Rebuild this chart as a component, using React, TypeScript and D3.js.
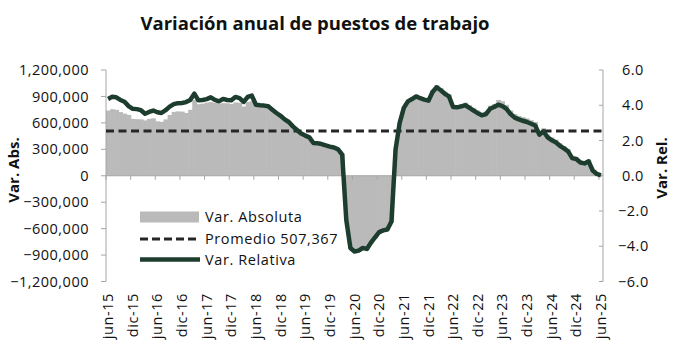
import React, { useEffect, useRef } from "react";
import * as d3 from "d3";

// jun-15 .. jun-25, monthly
const tickLabels = [
  "jun-15", "dic-15", "jun-16", "dic-16", "jun-17", "dic-17", "jun-18", "dic-18",
  "jun-19", "dic-19", "jun-20", "dic-20", "jun-21", "dic-21", "jun-22", "dic-22",
  "jun-23", "dic-23", "jun-24", "dic-24", "jun-25",
];

// Var. Absoluta (miles de puestos)
const varAbs = [
  740, 755, 748, 722, 705, 690, 645, 642, 640, 628, 645, 652,
  618, 612, 640, 690, 725, 730, 728, 712, 748, 860, 812, 818,
  830, 836, 826, 815, 824, 822, 815, 832, 828, 786, 838, 845,
  785, 784, 782, 775, 740, 695, 660, 625, 600, 545, 505, 462,
  440, 420, 358, 350, 340, 328, 318, 310, 298, 250, -500, -830,
  -870, -865, -835, -845, -775, -715, -655, -630, -620, -530, 300, 600,
  775, 850, 880, 915, 895, 880, 870, 975, 1030, 995, 955, 925,
  805, 800, 815, 830, 800, 770, 740, 715, 730, 795, 815, 860,
  845, 805, 740, 700, 680, 665, 650, 630, 610, 500, 540, 468,
  435, 410, 368, 335, 298, 218, 205, 165, 155, 180, 66, 22,
  5,
];

// Var. Relativa (%)
const varRel = [
  4.36, 4.48, 4.45, 4.3, 4.2, 3.95, 3.8, 3.78, 3.72, 3.52, 3.62, 3.7,
  3.6, 3.56, 3.72, 3.92, 4.06, 4.12, 4.13, 4.18, 4.3, 4.66, 4.28, 4.3,
  4.35, 4.45, 4.3, 4.22, 4.36, 4.3, 4.28, 4.47, 4.4, 4.19, 4.47, 4.55,
  4.03, 4.0, 3.98, 3.94, 3.75, 3.56, 3.4, 3.2, 3.05, 2.8, 2.6, 2.4,
  2.28, 2.18, 1.86, 1.84, 1.8, 1.72, 1.65, 1.6, 1.5, 1.2, -2.5, -4.1,
  -4.3, -4.25, -4.1, -4.15, -3.8, -3.5, -3.2, -3.1, -3.05, -2.6, 1.5, 3.0,
  3.85, 4.22, 4.35, 4.5, 4.4, 4.32, 4.26, 4.75, 5.02, 4.85, 4.65, 4.5,
  3.9, 3.88, 3.94, 4.0, 3.85, 3.7, 3.55, 3.43, 3.5, 3.8, 3.9, 4.03,
  3.95, 3.8, 3.5, 3.3, 3.2, 3.12, 3.05, 2.95, 2.85, 2.33, 2.52, 2.18,
  2.02, 1.9, 1.7, 1.55, 1.38, 1.0, 0.95, 0.75, 0.7, 0.82, 0.3, 0.1,
  0.02,
];

const promedio = 507367;
const leftTicks = [-1200000, -900000, -600000, -300000, 0, 300000, 600000, 900000, 1200000];
const rightTicks = [-6, -4, -2, 0, 2, 4, 6];

const W = 686;
const H = 361;
const font = "'Open Sans', 'Noto Sans', sans-serif";

const App = () => {
  const ref = useRef<SVGSVGElement>(null);

  useEffect(() => {
    const svg = d3.select(ref.current);
    svg.selectAll("*").remove();

    const x = d3
      .scaleBand<number>()
      .domain(d3.range(varAbs.length))
      .range([106, 603])
      .padding(0);
    const yL = d3.scaleLinear().domain([-1200000, 1200000]).range([281.5, 70]);
    const yR = d3.scaleLinear().domain([-6, 6]).range([281.5, 70]);
    const bw = x.bandwidth();
    const axisColor = "#a6a6a6";

    // title
    svg
      .append("text")
      .attr("x", 315)
      .attr("y", 30)
      .attr("text-anchor", "middle")
      .style("font-family", font)
      .style("font-weight", "bold")
      .style("font-size", "18.5px")
      .attr("fill", "#111")
      .text("Variación anual de puestos de trabajo");

    // bars
    svg
      .append("g")
      .selectAll("rect")
      .data(varAbs)
      .enter()
      .append("rect")
      .attr("x", (d, i) => x(i)!)
      .attr("width", bw + 0.6)
      .attr("y", (d) => yL(Math.max(0, d * 1000)))
      .attr("height", (d) => Math.abs(yL(d * 1000) - yL(0)))
      .attr("fill", "#bababa");

    // left axis
    const gl = svg.append("g");
    gl.append("line")
      .attr("x1", 106).attr("x2", 106)
      .attr("y1", yL(1200000)).attr("y2", yL(-1200000))
      .attr("stroke", axisColor);
    leftTicks.forEach((t) => {
      gl.append("line")
        .attr("x1", 101).attr("x2", 106)
        .attr("y1", yL(t)).attr("y2", yL(t))
        .attr("stroke", axisColor);
      gl.append("text")
        .attr("x", 89)
        .attr("y", yL(t))
        .attr("dy", "0.35em")
        .attr("text-anchor", "end")
        .style("font-family", font)
        .style("font-size", "14.5px")
        .style("letter-spacing", "0.5px")
        .attr("fill", "#111")
        .text(d3.format(",")(t));
    });

    // right axis
    const gr = svg.append("g");
    gr.append("line")
      .attr("x1", 603).attr("x2", 603)
      .attr("y1", yR(6)).attr("y2", yR(-6))
      .attr("stroke", axisColor);
    rightTicks.forEach((t) => {
      gr.append("line")
        .attr("x1", 599).attr("x2", 603)
        .attr("y1", yR(t)).attr("y2", yR(t))
        .attr("stroke", axisColor);
      gr.append("text")
        .attr("x", t < 0 ? 618 : 622)
        .attr("y", yR(t))
        .attr("dy", "0.35em")
        .style("font-family", font)
        .style("font-size", "14.5px")
        .style("letter-spacing", "0.5px")
        .attr("fill", "#111")
        .text(d3.format(".1f")(t));
    });

    // x axis on zero line
    const gx = svg.append("g");
    gx.append("line")
      .attr("x1", 106).attr("x2", 603)
      .attr("y1", yL(0)).attr("y2", yL(0))
      .attr("stroke", axisColor);
    d3.range(0, varAbs.length, 6).forEach((i) => {
      gx.append("line")
        .attr("x1", x(i)!).attr("x2", x(i)!)
        .attr("y1", yL(0)).attr("y2", yL(0) + 4)
        .attr("stroke", axisColor);
    });
    tickLabels.forEach((lab, k) => {
      const cx = x(k * 6)! + bw / 2;
      gx.append("text")
        .attr("transform", `translate(${cx},293) rotate(-90)`)
        .attr("dy", "0.35em")
        .attr("text-anchor", "end")
        .style("font-family", font)
        .style("font-size", "14.5px")
        .style("letter-spacing", "0.6px")
        .attr("fill", "#111")
        .text(lab);
    });

    // axis titles
    svg.append("text")
      .attr("transform", `translate(14,170) rotate(-90)`)
      .attr("dy", "0.35em")
      .attr("text-anchor", "middle")
      .style("font-family", font)
      .style("font-weight", "bold")
      .style("font-size", "15px")
      .attr("fill", "#111")
      .text("Var. Abs.");
    svg.append("text")
      .attr("transform", `translate(662,168) rotate(-90)`)
      .attr("dy", "0.35em")
      .attr("text-anchor", "middle")
      .style("font-family", font)
      .style("font-weight", "bold")
      .style("font-size", "15px")
      .attr("fill", "#111")
      .text("Var. Rel.");

    // promedio
    svg.append("line")
      .attr("x1", 106).attr("x2", 602)
      .attr("y1", yL(promedio)).attr("y2", yL(promedio))
      .attr("stroke", "#262626")
      .attr("stroke-width", 3)
      .attr("stroke-dasharray", "8,4.5");

    // relative line
    const line = d3
      .line<number>()
      .x((d, i) => x(i)! + bw / 2)
      .y((d) => yR(d));
    svg.append("path")
      .datum(varRel)
      .attr("d", line)
      .attr("fill", "none")
      .attr("stroke", "#1d3d2f")
      .attr("stroke-width", 4.5)
      .attr("stroke-linejoin", "round");

    // legend
    const lg = svg.append("g");
    const items = [
      { label: "Var. Absoluta", y: 217 },
      { label: "Promedio " + d3.format(",")(promedio), y: 239 },
      { label: "Var. Relativa", y: 260 },
    ];
    lg.append("rect")
      .attr("x", 140).attr("y", 211.5)
      .attr("width", 59).attr("height", 11)
      .attr("fill", "#bababa");
    lg.append("line")
      .attr("x1", 140).attr("x2", 199)
      .attr("y1", 239).attr("y2", 239)
      .attr("stroke", "#262626")
      .attr("stroke-width", 3)
      .attr("stroke-dasharray", "8,4");
    lg.append("line")
      .attr("x1", 140).attr("x2", 200)
      .attr("y1", 259.5).attr("y2", 259.5)
      .attr("stroke", "#1d3d2f")
      .attr("stroke-width", 4.5);
    items.forEach((it) => {
      lg.append("text")
        .attr("x", 205)
        .attr("y", it.y)
        .attr("dy", "0.35em")
        .style("font-family", font)
        .style("font-size", "14.5px")
        .style("letter-spacing", "0.6px")
        .attr("fill", "#111")
        .text(it.label);
    });
  }, []);

  return (
    <svg
      ref={ref}
      width={W}
      height={H}
      style={{ position: "absolute", left: 0, top: 0, background: "#fff" }}
    />
  );
};

export default App;
